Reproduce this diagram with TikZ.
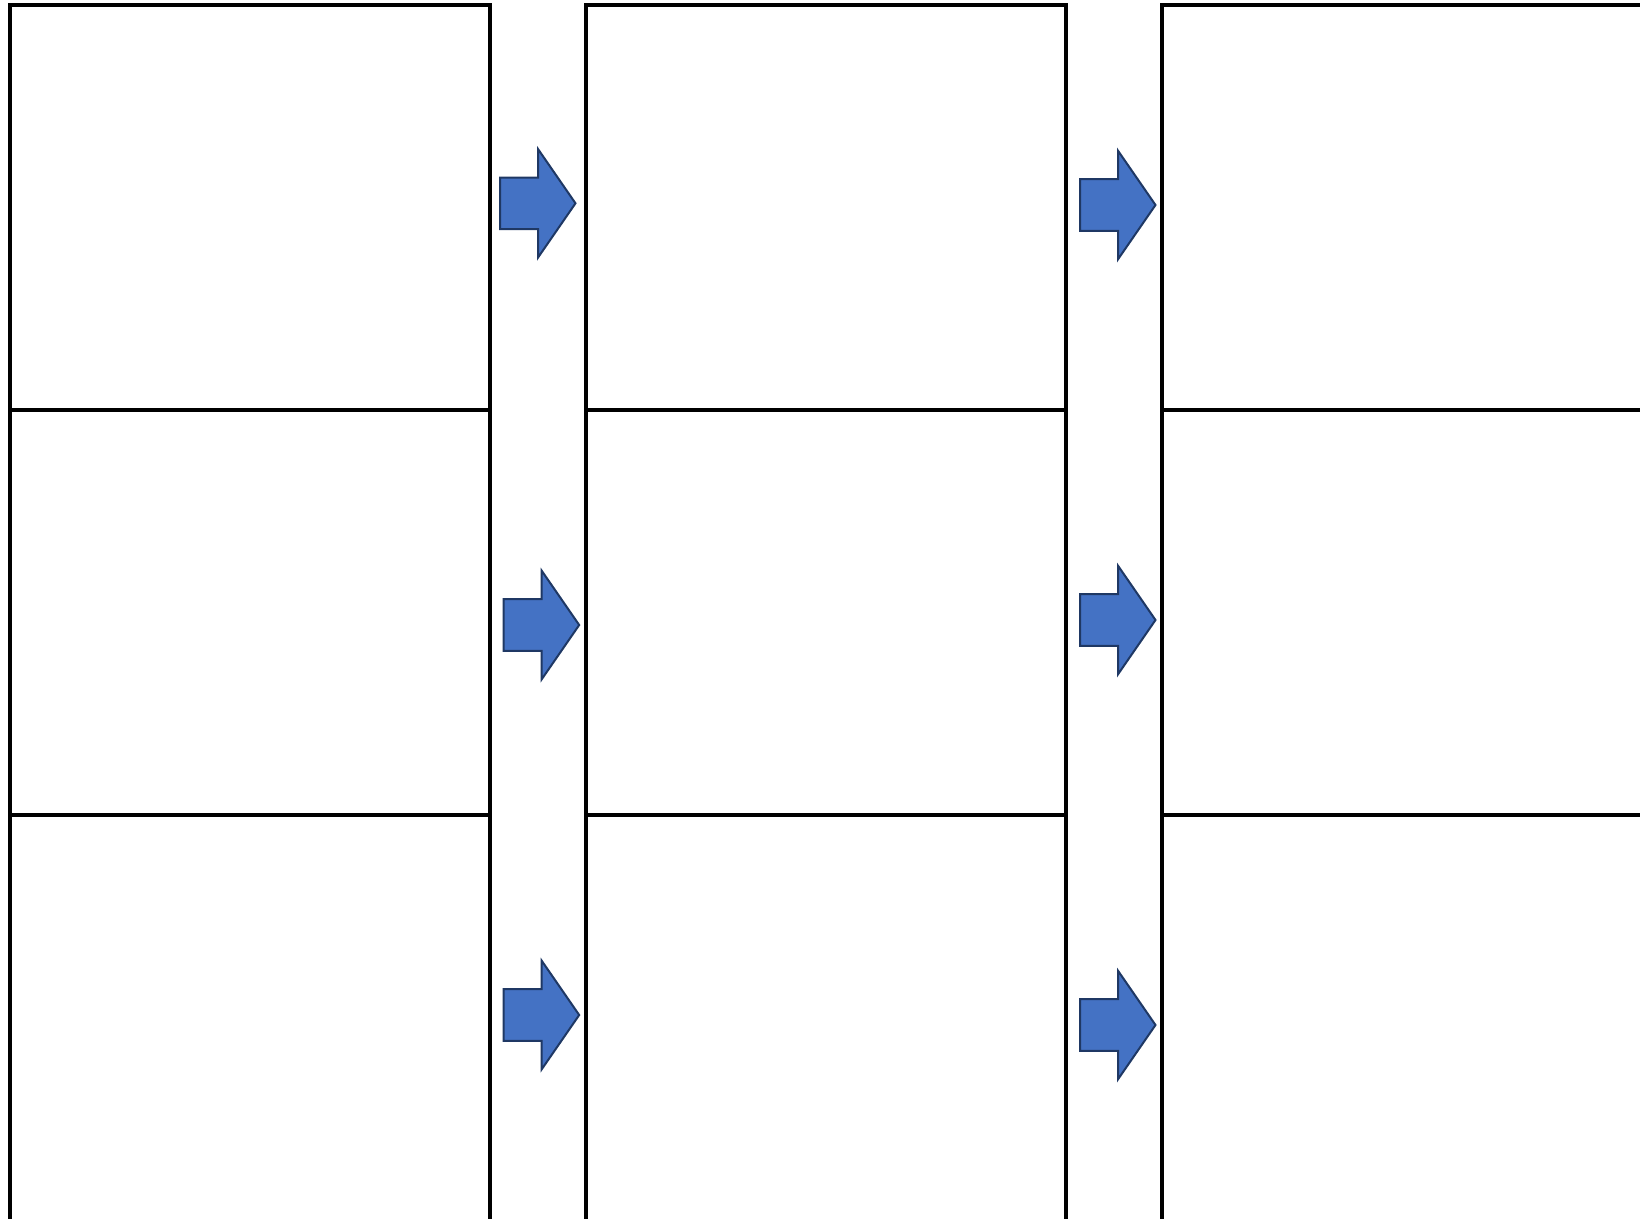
\documentclass[tikz,border=0pt]{standalone}
\usetikzlibrary{positioning}
\definecolor{arrowfill}{HTML}{4472C4}
\definecolor{arrowline}{HTML}{1F3864}
\tikzset{
  cell/.style={draw=black, line width=4bp, fill=none, inner sep=0pt, outer sep=0pt,
    minimum width=480bp, minimum height=405bp, anchor=north west},
  blockarrow/.pic={
    \path[fill=arrowfill, draw=arrowline, line width=2bp, line join=miter]
      (1,-25.8) -- (39,-25.8) -- (39,-54.3) -- (76.5,0) -- (39,54.3) -- (39,25.8) -- (1,25.8) -- cycle;
  }
}
\begin{document}
\begin{tikzpicture}[x=1bp, y=-1bp]
  \useasboundingbox (0,0) rectangle (1640,1218);
  \clip (0,0) rectangle (1640,1218);
  % grid of cells
  \node[cell, minimum width=479.7bp, minimum height=404.4bp] (c11) at (10,5.3) {};
  \node[cell, minimum width=479.7bp, minimum height=405.3bp] (c21) at (10,409.7) {};
  \node[cell, minimum width=479.7bp, minimum height=420bp] (c31) at (10,815) {};
  \node[cell, minimum width=480bp, minimum height=404.4bp] (c12) at (586,5.3) {};
  \node[cell, minimum width=480bp, minimum height=405.3bp] (c22) at (586,409.7) {};
  \node[cell, minimum width=480bp, minimum height=420bp] (c32) at (586,815) {};
  \node[cell, minimum width=500bp, minimum height=404.4bp] (c13) at (1162,5.3) {};
  \node[cell, minimum width=500bp, minimum height=405.3bp] (c23) at (1162,409.7) {};
  \node[cell, minimum width=500bp, minimum height=420bp] (c33) at (1162,815) {};
  % block arrows
  \pic at (499,203.3) {blockarrow};
  \pic at (502.7,625) {blockarrow};
  \pic at (502.7,1015) {blockarrow};
  \pic at (1079,205) {blockarrow};
  \pic at (1079,620) {blockarrow};
  \pic at (1079,1025) {blockarrow};
\end{tikzpicture}
\end{document}
